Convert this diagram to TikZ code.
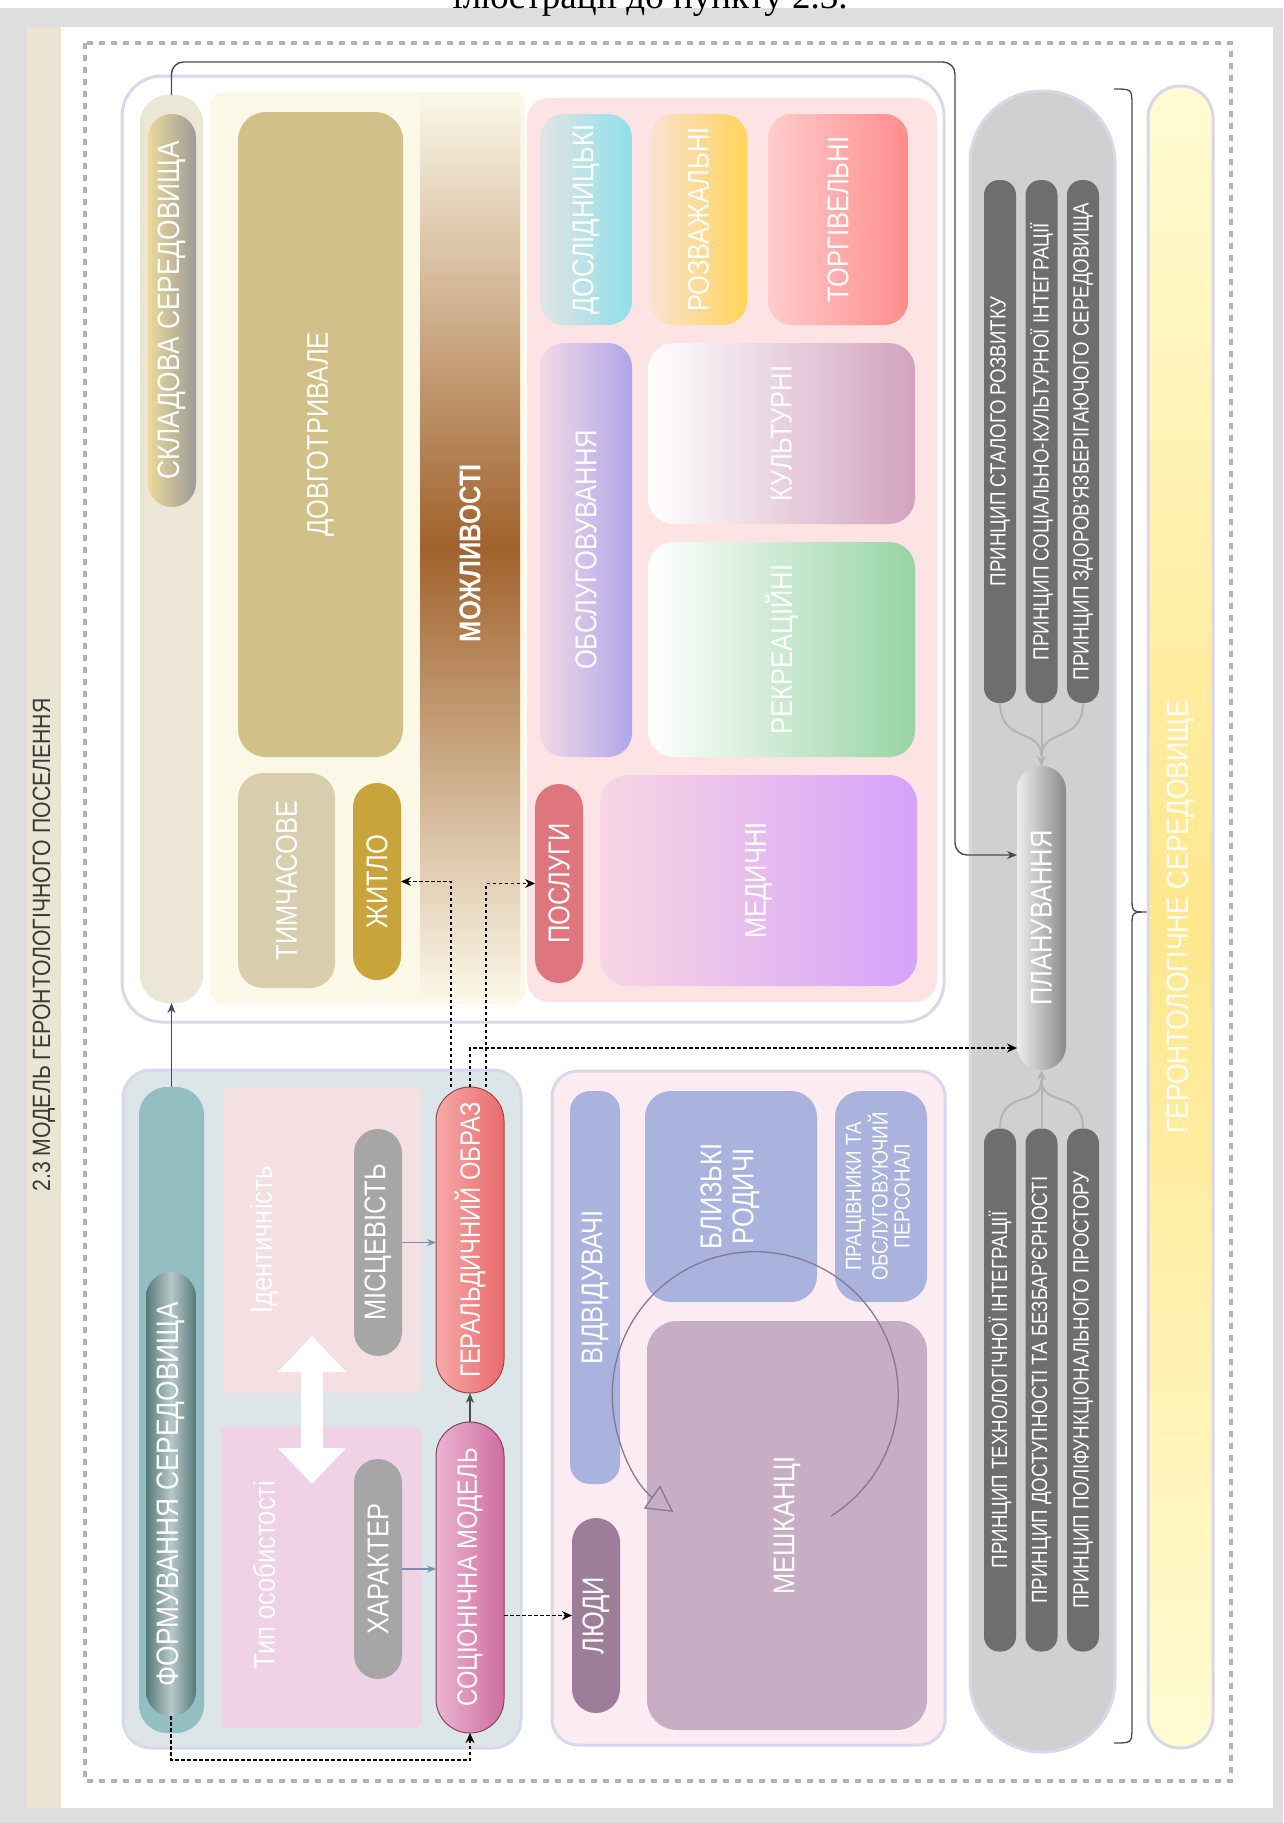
\documentclass[tikz,border=0pt]{standalone}
\usepackage{graphicx}
\usepackage{fontspec}
\setmainfont{Liberation Sans}[FakeStretch=0.85]
\newfontfamily\capfont{Liberation Serif}
\usetikzlibrary{arrows.meta}

\definecolor{pagegray}{HTML}{DEDEDE}
\definecolor{stripbeige}{HTML}{EBE5D4}
\definecolor{framegray}{HTML}{B2B2BC}
\definecolor{glowc}{HTML}{D8D8EA}
\definecolor{creambg}{HTML}{FBF8E8}
\definecolor{sklstrip}{HTML}{ECE6D6}
\definecolor{sklA}{HTML}{EBD99C}
\definecolor{sklB}{HTML}{9C9C97}
\definecolor{dovhc}{HTML}{D1C088}
\definecolor{tymchc}{HTML}{D8CEAE}
\definecolor{zhytloc}{HTML}{C8A43B}
\definecolor{brownc}{HTML}{A0622C}
\definecolor{servbg}{HTML}{FDE3E3}
\definecolor{doslA}{HTML}{E4E4E4}
\definecolor{doslB}{HTML}{8DE0EA}
\definecolor{rozvA}{HTML}{FBE2D2}
\definecolor{rozvB}{HTML}{FFD45A}
\definecolor{torhA}{HTML}{FFCCCC}
\definecolor{torhB}{HTML}{FF8C8C}
\definecolor{obslA}{HTML}{F3D9E7}
\definecolor{obslB}{HTML}{AFA6EA}
\definecolor{kultB}{HTML}{D2A3BF}
\definecolor{rekrB}{HTML}{97D4A4}
\definecolor{poslc}{HTML}{DF767E}
\definecolor{medA}{HTML}{F8D6E3}
\definecolor{medB}{HTML}{D6A2FA}
\definecolor{formbg}{HTML}{DCE6E9}
\definecolor{formstrip}{HTML}{93BFC2}
\definecolor{formA}{HTML}{56797A}
\definecolor{formM}{HTML}{B8C8C9}
\definecolor{identc}{HTML}{F4DFE3}
\definecolor{persc}{HTML}{EFD2E6}
\definecolor{greypill}{HTML}{A6A6A6}
\definecolor{geralA}{HTML}{F7A9A9}
\definecolor{geralB}{HTML}{EA6A6A}
\definecolor{geralD}{HTML}{9A4747}
\definecolor{socioA}{HTML}{ECB4D2}
\definecolor{socioB}{HTML}{CF6E9F}
\definecolor{socioD}{HTML}{86425F}
\definecolor{peoplebg}{HTML}{FCECF2}
\definecolor{periw}{HTML}{AAB3DE}
\definecolor{liudyc}{HTML}{9C7E98}
\definecolor{meshkc}{HTML}{C8AEC5}
\definecolor{cyclec}{HTML}{86798F}
\definecolor{princbg}{HTML}{D0D0D0}
\definecolor{princc}{HTML}{6E6E6E}
\definecolor{planA}{HTML}{EDEDED}
\definecolor{planB}{HTML}{8A8A8A}
\definecolor{mergec}{HTML}{B4B4B4}
\definecolor{yellA}{HTML}{FFFBD3}
\definecolor{yellB}{HTML}{FFE78C}
\definecolor{linec}{HTML}{4A4A4A}
\definecolor{softblue}{HTML}{7A8CB0}
\definecolor{titlec}{HTML}{3A3A3A}

\newcommand\vtext[1]{\rotatebox{90}{#1}}
\newcommand\lblfont{\fontsize{30}{32}\selectfont}
\newcommand\lblbig{\fontsize{31}{34}\selectfont}
\newcommand\lblsmall{\fontsize{22}{22}\selectfont}
\newcommand\lblprinc{\fontsize{22}{24}\selectfont}
\newcommand\lbltitle{\fontsize{25}{28}\selectfont}

\begin{document}
\begin{tikzpicture}[x=1pt,y=-1pt,
    blk/.style={inner sep=0pt, outer sep=0pt, text=white, font=\lblfont},
    sz/.style 2 args={minimum width=#1pt, minimum height=#2pt},
    glow/.style={draw=glowc, line width=3pt},
    princ/.style={blk, fill=princc, sz={32}{523}, rounded corners=15pt, font=\lblprinc},
    conn/.style={draw=linec, line width=1.4pt, -{Stealth[length=10pt,width=8pt]}},
    dashconn/.style={draw=black, line width=1.3pt, dash pattern=on 3.5pt off 2.5pt, -{Stealth[length=10pt,width=9pt]}},
    softconn/.style={draw=softblue, line width=1.5pt, -{Stealth[length=9pt,width=7pt]}},
    merge/.style={draw=mergec, line width=2pt}]

% page
\useasboundingbox (0,0) rectangle (1283,1823);
\fill[pagegray] (0,8) rectangle (1283,1823);
\fill[white] (61,27) rectangle (1273,1808);
\fill[stripbeige] (27,27) rectangle (61,1808);
\begin{scope}
  \clip (0,0) rectangle (1283,1823);
  \node[anchor=base, inner sep=0pt, font=\capfont\fontsize{37}{42}\selectfont] (caption) at (650,8) {ілюстрації до пункту 2.3.};
\end{scope}
\node[blk, text=titlec, font=\lbltitle] (title) at (44,945) {\vtext{2.3 МОДЕЛЬ ГЕРОНТОЛОГІЧНОГО ПОСЕЛЕННЯ}};
\draw[framegray, line width=3.5pt, dash pattern=on 6pt off 6pt] (85,43) rectangle (1231,1781);

% components
\node[blk, glow, fill=white, rounded corners=40pt, sz={822}{946}] (compPanel) at (533,549) {};
\fill[creambg, rounded corners=14pt] (210,92) rectangle (525,1004);
\shade[top color=creambg, bottom color=creambg, middle color=brownc] (420,92) rectangle (520,1000);
\node[blk, font=\lblfont\bfseries] (mozh) at (470,553) {\vtext{МОЖЛИВОСТІ}};
\node[blk, fill=sklstrip, rounded corners=28pt, sz={63}{908}] (sklStrip) at (171.5,549) {};
\node[blk, left color=sklA, right color=sklB, rounded corners=24pt, sz={48}{393}, font=\lblbig] (skl) at (172,310.5) {\vtext{СКЛАДОВА СЕРЕДОВИЩА}};
\node[blk, fill=dovhc, rounded corners=28pt, sz={165}{645}] (dovh) at (320.5,434.5) {\vtext{ДОВГОТРИВАЛЕ}};
\node[blk, fill=tymchc, rounded corners=25pt, sz={97}{215}] (tymch) at (286.5,880.5) {\vtext{ТИМЧАСОВЕ}};
\node[blk, fill=zhytloc, rounded corners=24pt, sz={48}{197}] (zhytlo) at (377,881.5) {\vtext{ЖИТЛО}};

% services
\node[blk, fill=servbg, rounded corners=22pt, sz={410}{904}] (servPanel) at (732,550) {};
\node[blk, left color=doslA, right color=doslB, rounded corners=24pt, sz={92}{211}] (dosl) at (586,219.5) {\vtext{ДОСЛІДНИЦЬКІ}};
\node[blk, left color=rozvA, right color=rozvB, rounded corners=24pt, sz={97}{211}] (rozv) at (698.5,219.5) {\vtext{РОЗВАЖАЛЬНІ}};
\node[blk, left color=torhA, right color=torhB, rounded corners=24pt, sz={140}{211}] (torh) at (838,219.5) {\vtext{ТОРГІВЕЛЬНІ}};
\node[blk, left color=obslA, right color=obslB, rounded corners=24pt, sz={92}{414}] (obsl) at (586,550) {\vtext{ОБСЛУГОВУВАННЯ}};
\node[blk, left color=white, right color=kultB, rounded corners=26pt, sz={267}{181}] (kult) at (781.5,433.5) {\vtext{КУЛЬТУРНІ}};
\node[blk, left color=white, right color=rekrB, rounded corners=26pt, sz={267}{215}] (rekr) at (781.5,649.5) {\vtext{РЕКРЕАЦІЙНІ}};
\node[blk, fill=poslc, rounded corners=24pt, sz={48}{199}] (posl) at (559,883.5) {\vtext{ПОСЛУГИ}};
\node[blk, left color=medA, right color=medB, rounded corners=28pt, sz={317}{211}] (med) at (758.5,880.5) {\vtext{МЕДИЧНІ}};

% forming the environment
\node[blk, glow, fill=formbg, rounded corners=28pt, sz={398}{678}] (formPanel) at (322,1409) {};
\node[blk, fill=formstrip, rounded corners=28pt, sz={65}{646}] (formStrip) at (171.5,1410) {};
\node[blk, left color=formA, right color=formA, middle color=formM, rounded corners=25pt, sz={50}{444}, font=\lblbig] (formPill) at (171,1494) {\vtext{ФОРМУВАННЯ СЕРЕДОВИЩА}};
\node[blk, fill=identc, rounded corners=6pt, sz={198}{306}] (ident) at (322,1240) {};
\node[blk, fill=persc, rounded corners=6pt, sz={200}{301}] (pers) at (321,1577.5) {};
\node[blk] (identLbl) at (264,1240) {\vtext{Ідентичність}};
\node[blk] (persLbl) at (264,1575) {\vtext{Тип особистості}};
\coordinate (dblTop) at (312,1336);
\coordinate (dblBot) at (312,1484);
\draw[white, line width=22pt, {Triangle[length=36pt,width=66pt]}-{Triangle[length=36pt,width=66pt]}] (dblTop) -- (dblBot);
\node[blk, fill=greypill, rounded corners=24pt, sz={48}{227}] (misc) at (378,1242.5) {\vtext{МІСЦЕВІСТЬ}};
\node[blk, fill=greypill, rounded corners=24pt, sz={48}{220}] (khar) at (378,1569) {\vtext{ХАРАКТЕР}};
\node[blk, left color=geralA, right color=geralB, draw=geralD, line width=1pt, rounded corners=34pt, sz={68}{306}, font=\fontsize{28}{30}\selectfont] (geral) at (470,1240) {\vtext{ГЕРАЛЬДИЧНИЙ ОБРАЗ}};
\node[blk, left color=socioA, right color=socioB, draw=socioD, line width=1pt, rounded corners=34pt, sz={68}{311}, font=\fontsize{28}{30}\selectfont] (socio) at (470,1577.5) {\vtext{СОЦІОНІЧНА МОДЕЛЬ}};

% people
\node[blk, glow, fill=peoplebg, rounded corners=26pt, sz={393}{674}] (peoplePanel) at (748.5,1408) {};
\node[blk, fill=periw, rounded corners=20pt, sz={50}{393}] (vidv) at (595,1287.5) {\vtext{ВІДВІДУВАЧІ}};
\node[blk, fill=liudyc, rounded corners=24pt, sz={48}{195}] (liudy) at (596,1615.5) {\vtext{ЛЮДИ}};
\node[blk, fill=periw, rounded corners=26pt, sz={172}{211}] (rodychi) at (731,1196.5) {\vtext{\begin{tabular}{@{}c@{}}БЛИЗЬКІ\\РОДИЧІ\end{tabular}}};
\node[blk, fill=periw, rounded corners=26pt, sz={92}{211}, font=\lblsmall] (personal) at (881,1196.5) {\vtext{\begin{tabular}{@{}c@{}}ПРАЦІВНИКИ ТА\\ОБСЛУГОВУЮЧИЙ\\ПЕРСОНАЛ\end{tabular}}};
\node[blk, fill=meshkc, rounded corners=30pt, sz={280}{409}] (meshk) at (787,1525.5) {\vtext{МЕШКАНЦІ}};
\draw[cyclec, line width=1.3pt, -{Triangle[open, length=26pt, width=28pt]}] (831,1516) arc[start angle=58, end angle=-235, radius=143];

% principles and planning
\node[blk, glow, fill=princbg, rounded corners=72pt, sz={145}{1661}] (princPanel) at (1042.5,921.5) {};
\node[princ] (p1) at (1000,441.5) {\vtext{ПРИНЦИП СТАЛОГО РОЗВИТКУ}};
\node[princ] (p2) at (1041.5,441.5) {\vtext{ПРИНЦИП СОЦІАЛЬНО-КУЛЬТУРНОЇ ІНТЕГРАЦІЇ}};
\node[princ] (p3) at (1083,441.5) {\vtext{ПРИНЦИП ЗДОРОВ'ЯЗБЕРІГАЮЧОГО СЕРЕДОВИЩА}};
\node[princ] (p4) at (1000,1390) {\vtext{ПРИНЦИП ТЕХНОЛОГІЧНОЇ ІНТЕГРАЦІЇ}};
\node[princ] (p5) at (1041.5,1390) {\vtext{ПРИНЦИП ДОСТУПНОСТІ ТА БЕЗБАР'ЄРНОСТІ}};
\node[princ] (p6) at (1083,1390) {\vtext{ПРИНЦИП ПОЛІФУНКЦІОНАЛЬНОГО ПРОСТОРУ}};
\node[blk, left color=planA, right color=planB, rounded corners=24pt, sz={49}{304}] (plan) at (1041.5,918) {\vtext{ПЛАНУВАННЯ}};
\draw[merge] (p1.south) .. controls +(0,40) and +(0,-28) .. ([yshift=10pt]plan.north);
\draw[merge] (p3.south) .. controls +(0,40) and +(0,-28) .. ([yshift=10pt]plan.north);
\draw[merge, -{Stealth[length=10pt,width=9pt]}] (p2.south) -- (plan.north);
\draw[merge] (p4.north) .. controls +(0,-40) and +(0,28) .. ([yshift=-10pt]plan.south);
\draw[merge] (p6.north) .. controls +(0,-40) and +(0,28) .. ([yshift=-10pt]plan.south);
\draw[merge, -{Stealth[length=10pt,width=9pt]}] (p5.north) -- (plan.south);

% gerontological environment
\draw[linec, line width=1.3pt] (1114,89) .. controls (1132,89) .. (1132,106) -- (1132,898) .. controls (1132,912) .. (1148,912) .. controls (1132,912) .. (1132,926) -- (1132,1726) .. controls (1132,1743) .. (1114,1743);
\node[blk, glow, top color=yellA, bottom color=yellA, middle color=yellB, rounded corners=32pt, sz={65}{1662}, font=\lblbig] (geronto) at (1180.5,917) {\vtext{ГЕРОНТОЛОГІЧНЕ СЕРЕДОВИЩЕ}};

% connectors
\coordinate (topRun) at (955,62);
\coordinate (lowRun) at (300,1760);
\draw[conn, rounded corners=12pt] (sklStrip.north) |- (topRun) |- ([yshift=63pt]plan.west);
\draw[conn] (formStrip.north) -- (sklStrip.south);
\draw[dashconn] (formPill.south) |- (lowRun) -| (socio.south);
\draw[conn] (socio.north) -- (geral.south);
\draw[softconn] (misc.east) -- (misc.east -| geral.west);
\draw[softconn] (khar.east) -- (khar.east -| socio.west);
\draw[dashconn] (socio.east |- liudy.west) -- (liudy.west);
\draw[dashconn] ([xshift=-19pt]geral.north) |- (zhytlo.east);
\draw[dashconn] ([xshift=16pt]geral.north) |- (posl.west);
\draw[dashconn] (geral.north) |- ([yshift=-130pt]plan.west);
\end{tikzpicture}
\end{document}
